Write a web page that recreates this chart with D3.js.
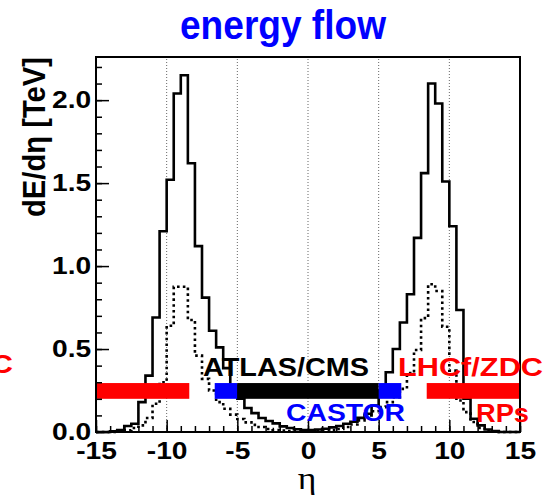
<!DOCTYPE html>
<html>
<head>
<meta charset="utf-8">
<title>energy flow</title>
<script src="https://cdnjs.cloudflare.com/ajax/libs/d3/7.8.5/d3.min.js"></script>
<style>
  body { margin: 0; background: #fff; }
  svg { display: block; }
  text { font-family: "Liberation Sans", Arial, sans-serif; font-weight: bold; }
</style>
</head>
<body>
<svg id="chart" width="545" height="495"></svg>
<script>
// histogram bins: 0.5 wide from -15 to 15
const binWidth = 0.5;
const etaEdges = d3.range(-15, 15, binWidth);

// solid histogram, dE/deta [TeV]
const dEdEtaSolid = [
  0, 0, 0.004, 0.012, 0.036, 0.05, 0.18, 0.34, 0.69, 1.21,
  1.52, 2.04, 2.15, 1.62, 1.12, 0.81, 0.61, 0.51, 0.385, 0.28,
  0.2, 0.145, 0.114, 0.084, 0.066, 0.052, 0.034, 0.024, 0.017, 0.012,
  0.012, 0.015, 0.02, 0.028, 0.036, 0.05, 0.062, 0.085, 0.11, 0.16,
  0.25, 0.36, 0.5, 0.66, 0.83, 1.17, 1.56, 2.1, 1.98, 1.51,
  1.24, 0.735, 0.2, 0.08, 0.04, 0.015, 0.005, 0, 0, 0
];
// dotted histogram
const dEdEtaDotted = [
  0, 0, 0, 0.004, 0.01, 0.024, 0.04, 0.084, 0.17, 0.3,
  0.64, 0.875, 0.875, 0.675, 0.46, 0.32, 0.25, 0.18, 0.14, 0.105,
  0.078, 0.058, 0.043, 0.03, 0.018, 0.012, 0.008, 0.006, 0.004, 0.003,
  0.003, 0.004, 0.006, 0.01, 0.018, 0.03, 0.045, 0.07, 0.1, 0.125,
  0.15, 0.18, 0.21, 0.26, 0.355, 0.494, 0.686, 0.89, 0.85, 0.634,
  0.37, 0.19, 0.12, 0.06, 0.025, 0.01, 0.004, 0, 0, 0
];

const xTicks = [-15, -10, -5, 0, 5, 10, 15];
const yTicks = [0, 0.5, 1.0, 1.5, 2.0];
const gridEta = [-10, -5, 0, 5, 10];

// detector acceptance in eta
const detName = ['LHCf/ZDC', 'CASTOR', 'ATLAS/CMS', 'CASTOR', 'LHCf/ZDC'];
const detLo = [-15, -6.6, -5, 5, 8.4];
const detHi = [-8.4, -5, 5, 6.6, 15];

const svg = d3.select('#chart');
const mLeft = 96, mRight = 520, mTop = 57, mBottom = 432;
const sx = 1.2; // labels in the picture are wider than tall

const x = d3.scaleLinear().domain([-15, 15]).range([mLeft, mRight]);
const y = d3.scaleLinear().domain([0, 2.26]).range([mBottom, mTop]);

// dotted grid lines
svg.selectAll('.grid')
  .data(gridEta)
  .enter()
  .append('line')
  .attr('x1', d => x(d)).attr('x2', d => x(d))
  .attr('y1', mBottom).attr('y2', mTop)
  .attr('stroke', '#666')
  .attr('stroke-width', 1)
  .attr('stroke-dasharray', '1,2');

// histograms as steps
const step = d3.line()
  .x(d => x(d[0]))
  .y(d => y(d[1]))
  .curve(d3.curveStepAfter);

function histPoints(vals) {
  const pts = etaEdges.map((e, i) => [e, vals[i]]);
  pts.push([15, vals[vals.length - 1]]);
  return pts;
}

svg.append('path')
  .attr('d', step(histPoints(dEdEtaDotted)))
  .attr('fill', 'none')
  .attr('stroke', '#000')
  .attr('stroke-width', 2.6)
  .attr('stroke-dasharray', '2.6,3.2');

svg.append('path')
  .attr('d', step(histPoints(dEdEtaSolid)))
  .attr('fill', 'none')
  .attr('stroke', '#000')
  .attr('stroke-width', 2.6);

// detector bars
const detColor = {'LHCf/ZDC': '#ff0000', 'CASTOR': '#0000ff', 'ATLAS/CMS': '#000000'};
svg.selectAll('.det')
  .data(detName)
  .enter()
  .append('rect')
  .attr('x', (d, i) => x(detLo[i]))
  .attr('width', (d, i) => x(detHi[i]) - x(detLo[i]))
  .attr('y', y(0.295))
  .attr('height', y(0.2) - y(0.295))
  .attr('fill', d => detColor[d]);

// axes
const axX = svg.append('g').attr('transform', `translate(0,${mBottom})`)
  .call(d3.axisBottom(x).tickValues(d3.range(-15, 16, 1)).tickSize(-6).tickFormat(''));
const axX2 = svg.append('g').attr('transform', `translate(0,${mBottom})`)
  .call(d3.axisBottom(x).tickValues(xTicks).tickSize(-12).tickPadding(10).tickFormat(d => String(d)));
const axY = svg.append('g').attr('transform', `translate(${mLeft},0)`)
  .call(d3.axisLeft(y).tickValues(d3.range(0, 2.26, 0.1)).tickSize(-6).tickFormat(''));
const axY2 = svg.append('g').attr('transform', `translate(${mLeft},0)`)
  .call(d3.axisLeft(y).tickValues(yTicks).tickSize(-13).tickPadding(4).tickFormat(d3.format('.1f')));

[axX, axX2, axY, axY2].forEach(a => {
  a.select('.domain').remove();
  a.selectAll('line').attr('stroke', '#000').attr('stroke-width', 1.5);
  a.selectAll('text')
    .attr('font-family', '"Liberation Sans", Arial, sans-serif')
    .attr('font-weight', 'bold')
    .attr('font-size', 23.5)
    .attr('fill', '#000')
    .attr('transform', `scale(${sx},1)`);
});

// frame
svg.append('rect')
  .attr('x', mLeft).attr('y', mTop)
  .attr('width', mRight - mLeft).attr('height', mBottom - mTop)
  .attr('fill', 'none')
  .attr('stroke', '#000')
  .attr('stroke-width', 2);

function label(str, px, py, size, len, color) {
  return svg.append('text')
    .attr('x', px).attr('y', py)
    .attr('font-size', size)
    .attr('textLength', len)
    .attr('lengthAdjust', 'spacingAndGlyphs')
    .attr('fill', color)
    .text(str);
}

label('energy flow', 180, 39, 41, 206, '#0000ff');
label('ATLAS/CMS', 203, 376, 25, 166, '#000');
label('CASTOR', 286, 421, 23.5, 119, '#0000ff');
label('LHCf/ZDC', 398, 376, 26, 145, '#ff0000');
label('LHCf/ZDC', 13 - 145, 373, 26, 145, '#ff0000');
label('RPs', 476, 422, 25, 53, '#ff0000');

// axis titles
svg.append('text')
  .attr('transform', `translate(45,${mTop}) rotate(-90) scale(1,1.12)`)
  .attr('text-anchor', 'end')
  .attr('font-size', 28)
  .attr('textLength', 160)
  .attr('lengthAdjust', 'spacingAndGlyphs')
  .attr('fill', '#000')
  .text('dE/dη [TeV]');

svg.append('text')
  .attr('transform', `translate(${x(0) - 1},489) scale(1.15,1)`)
  .attr('text-anchor', 'middle')
  .style('font-family', '"Liberation Serif", "Times New Roman", serif')
  .style('font-weight', 'normal')
  .attr('font-size', 31)
  .attr('fill', '#000')
  .text('η');
</script>
</body>
</html>
